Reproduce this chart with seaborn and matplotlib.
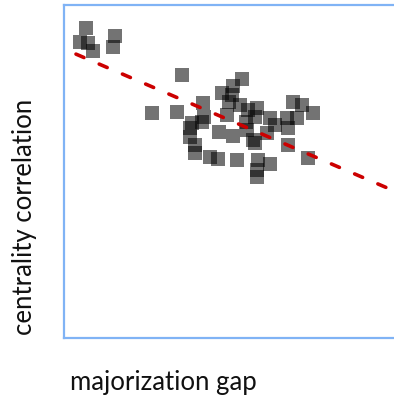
import matplotlib
matplotlib.use("Agg")
import matplotlib.pyplot as plt
import seaborn as sns
import numpy as np
import pandas as pd

# data (arbitrary 0-1 units, axes carry no ticks)
majorization_gap = [0.066, 0.048, 0.072, 0.087, 0.153, 0.147, 0.354, 0.264, 0.339,
                    0.535, 0.508, 0.474, 0.505, 0.495, 0.529, 0.580, 0.553, 0.417,
                    0.420, 0.414, 0.384, 0.378, 0.378, 0.393, 0.393, 0.438, 0.462,
                    0.520, 0.465, 0.508, 0.489, 0.547, 0.550, 0.574, 0.568, 0.574,
                    0.619, 0.634, 0.610, 0.670, 0.673, 0.688, 0.715, 0.700, 0.748,
                    0.673, 0.733, 0.583, 0.619, 0.580, 0.580]
centrality_correlation = [0.931, 0.889, 0.886, 0.862, 0.907, 0.874, 0.790, 0.676, 0.679,
                          0.778, 0.757, 0.736, 0.730, 0.709, 0.700, 0.691, 0.685, 0.706,
                          0.664, 0.649, 0.646, 0.631, 0.604, 0.580, 0.556, 0.544, 0.538,
                          0.535, 0.619, 0.607, 0.670, 0.649, 0.625, 0.664, 0.595, 0.586,
                          0.661, 0.640, 0.616, 0.661, 0.631, 0.709, 0.700, 0.661, 0.676,
                          0.580, 0.541, 0.535, 0.523, 0.505, 0.483]
trend_slope = -0.43
trend_intercept = 0.868
trend_x = [0.036, 1.05]

df = pd.DataFrame({"gap": majorization_gap, "corr": centrality_correlation})

sns.set_style("white")
plt.rcParams['font.family'] = ['Lato', 'DejaVu Sans']

fig = plt.figure(figsize=(3.94, 3.97), dpi=100)
ax = fig.add_axes([64/394, 1 - 338/397, 333/394, (338 - 5)/397])

sns.scatterplot(data=df, x="gap", y="corr", marker="s", s=100, color="black",
                alpha=0.55, linewidth=0, ax=ax, legend=False)
tx = np.array(trend_x)
ax.plot(tx, trend_intercept + trend_slope * tx, color="#cc0000", lw=2.6,
        dashes=(2.4, 4.6), solid_capstyle="round", dash_capstyle="round")

ax.set_xlim(0, 1)
ax.set_ylim(0, 1)
ax.set_xticks([])
ax.set_yticks([])
ax.set_xlabel("")
ax.set_ylabel("")
for sp in ax.spines.values():
    sp.set_color("#80b3f5")
    sp.set_linewidth(1.6)
    sp.set_visible(True)

fig.text(70/394, 1 - 390/397, "majorization gap", ha="left", va="baseline",
         fontsize=18.5, color="#111111")
fig.text(12/394, 1 - 335/397, "centrality correlation", ha="left", va="bottom",
         rotation=90, fontsize=18.5, color="#111111")

fig.savefig("out.png", dpi=100)
